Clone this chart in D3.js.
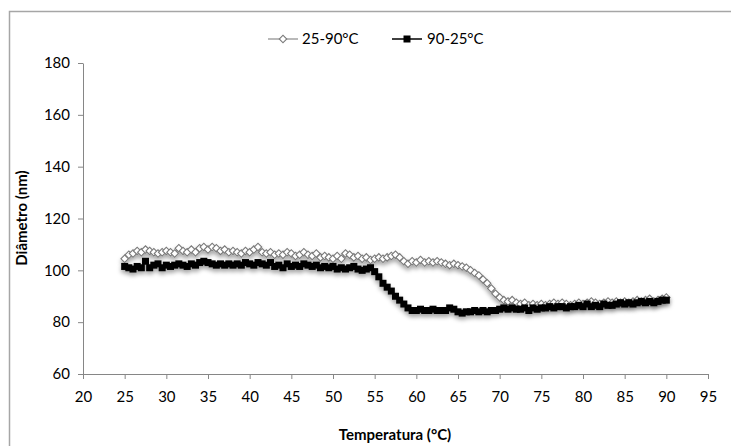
<!DOCTYPE html>
<html><head><meta charset="utf-8">
<script src="https://cdn.jsdelivr.net/npm/d3@7/dist/d3.min.js"></script>
<style>body{margin:0;background:#fff}svg{display:block}</style>
</head><body>
<script>
const temps = [
25,25.5,26,26.5,27,27.5,28,28.5,29,29.5,
30,30.5,31,31.5,32,32.5,33,33.5,34,34.5,
35,35.5,36,36.5,37,37.5,38,38.5,39,39.5,
40,40.5,41,41.5,42,42.5,43,43.5,44,44.5,
45,45.5,46,46.5,47,47.5,48,48.5,49,49.5,
50,50.5,51,51.5,52,52.5,53,53.5,54,54.5,
55,55.5,56,56.5,57,57.5,58,58.5,59,59.5,
60,60.5,61,61.5,62,62.5,63,63.5,64,64.5,
65,65.5,66,66.5,67,67.5,68,68.5,69,69.5,
70,70.5,71,71.5,72,72.5,73,73.5,74,74.5,
75,75.5,76,76.5,77,77.5,78,78.5,79,79.5,
80,80.5,81,81.5,82,82.5,83,83.5,84,84.5,
85,85.5,86,86.5,87,87.5,88,88.5,89,89.5,
90];
const heating = [ // 25-90°C
104.5,106,106.5,107.5,107,108,107.5,107,106.5,107,
107.5,107,106.5,108.5,107.5,107,108,107,108.5,109,
108,109,108.5,107.5,108,107,107.5,107,106.5,107.5,
107,108,109,107,106.5,107,106,106.5,106,107,
106.5,105.5,106,107,106,105.5,106.5,105,105.5,105,
104.5,105.5,104.5,106.5,106,105,105.5,104.5,105,104,
104.5,105,104.5,105,105.5,106,105,103.5,102.5,103.5,
103,104,103,103.5,103,103.5,103,102.5,102,102.5,
102,101.5,101,100,99,98,96.5,95,93,91,
89.5,88.5,88,88.5,87.5,87,87.5,86.5,87,86.5,
87,86.5,87,87.5,87,87.5,87,86.5,87,87.5,
87,87.5,88,87.5,87,87.5,88,87.5,88,87.5,
88,87.5,88,88.5,88,88.5,89,88,88.5,89,
89.5];
const cooling = [ // 90-25°C
101.5,101,100.5,101.5,101,103.5,101,102,102.5,101,
102,101.5,102,102.5,102,101.5,102.5,102,103,103.5,
103,102.5,102,102.5,102,102.5,102,102.5,102,103,
102.5,102,103,102.5,102,103,101.5,102,101,102.5,
101.5,102,101.5,102.5,102,101.5,102,101,101.5,101,
101.5,100.5,101,100.5,101,101.5,100.5,100,100.5,101,
99.5,97.5,95,93.5,92,90,88.5,87,85.5,84.5,
84.5,85,84.5,84.5,85,84.5,84.5,84.5,85.5,85,
84,83.5,84,84,84.5,84,84.5,84,84.5,84.5,
85,85.5,85,85.5,85,85,85.5,84.5,85.5,85,
85.5,85.5,86,85.5,86,86,85.5,86,86,86.5,
86,87,86,86.5,86,87,86.5,86.5,87,87.5,
87,87.5,87,87.5,88,87.5,88,87.5,88,88.5,
88.5];
const xTicks = [20,25,30,35,40,45,50,55,60,65,70,75,80,85,90,95];
const yTicks = [60,80,100,120,140,160,180];
const seriesNames = ["25-90°C","90-25°C"];

const W = 731, H = 446;
const svg = d3.select("body").append("svg").attr("width", W).attr("height", H);
const font = "Lato, 'Open Sans', sans-serif";

const defs = svg.append("defs");
const f = defs.append("filter").attr("id","sh").attr("x","-50%").attr("y","-50%").attr("width","200%").attr("height","200%");
f.append("feDropShadow").attr("dx",0).attr("dy",3).attr("stdDeviation",2).attr("flood-color","#000").attr("flood-opacity",0.35);

// outer border
svg.append("rect").attr("x",9.5).attr("y",11.5).attr("width",W).attr("height",H)
  .attr("fill","none").attr("stroke","#a6a6a6").attr("stroke-width",1.5);

const x = d3.scaleLinear().domain([20,95]).range([83,708]);
const y = d3.scaleLinear().domain([60,180]).range([374,63]);

const axisColor = "#868686";
const gx = svg.append("g").attr("transform","translate(0,374)")
  .call(d3.axisBottom(x).tickValues(xTicks).tickSize(5).tickSizeOuter(0).tickPadding(12));
const gy = svg.append("g").attr("transform","translate(83,0)")
  .call(d3.axisLeft(y).tickValues(yTicks).tickSize(5).tickSizeOuter(0).tickPadding(8));
[gx,gy].forEach(g=>{
  g.selectAll("path,line").attr("stroke",axisColor).attr("stroke-width",1);
  g.selectAll("text").attr("fill","#000").style("font-family",font).style("font-size","15px");
});

svg.append("text").attr("x",395).attr("y",440).attr("text-anchor","middle")
  .style("font-family",font).style("font-size","15px").style("font-weight","bold")
  .text("Temperatura (°C)");
svg.append("text").attr("transform","translate(27,218) rotate(-90)").attr("text-anchor","middle")
  .style("font-family",font).style("font-size","15px").style("font-weight","bold")
  .text("Diâmetro (nm)");

const line = d3.line().x((d,i)=>x(temps[i])).y(d=>y(d));
const dsym = d3.symbol().type(d3.symbolSquare).size(28)();

// heating series: hollow diamonds
const g1 = svg.append("g").attr("filter","url(#sh)");
g1.append("path").datum(heating).attr("d",line).attr("fill","none").attr("stroke","#8a8a8a").attr("stroke-width",1.2);
g1.selectAll("path.m").data(heating).join("path").attr("class","m")
  .attr("d", dsym)
  .attr("transform",(d,i)=>`translate(${x(temps[i])},${y(d)}) rotate(45)`)
  .attr("fill","#fff").attr("stroke","#7a7a7a").attr("stroke-width",1.1);

// cooling series: filled squares
const g2 = svg.append("g").attr("filter","url(#sh)");
g2.append("path").datum(cooling).attr("d",line).attr("fill","none").attr("stroke","#000").attr("stroke-width",1.5);
g2.selectAll("rect").data(cooling).join("rect")
  .attr("x",(d,i)=>x(temps[i])-3.5).attr("y",d=>y(d)-3.5).attr("width",7).attr("height",7).attr("fill","#000");

// legend
const lg = svg.append("g");
const ly = 39;
lg.append("line").attr("x1",268).attr("x2",298).attr("y1",ly).attr("y2",ly).attr("stroke","#8a8a8a").attr("stroke-width",1.2);
lg.append("path").attr("d", dsym)
  .attr("transform",`translate(283,${ly}) rotate(45)`).attr("fill","#fff").attr("stroke","#7a7a7a").attr("stroke-width",1.1);
lg.append("text").attr("x",302).attr("y",ly+5).style("font-family",font).style("font-size","15px").text(seriesNames[0]);
lg.append("line").attr("x1",392).attr("x2",422).attr("y1",ly).attr("y2",ly).attr("stroke","#000").attr("stroke-width",1.5);
lg.append("rect").attr("x",407-3.5).attr("y",ly-3.5).attr("width",7).attr("height",7).attr("fill","#000");
lg.append("text").attr("x",427).attr("y",ly+5).style("font-family",font).style("font-size","15px").text(seriesNames[1]);
</script>
</body></html>
